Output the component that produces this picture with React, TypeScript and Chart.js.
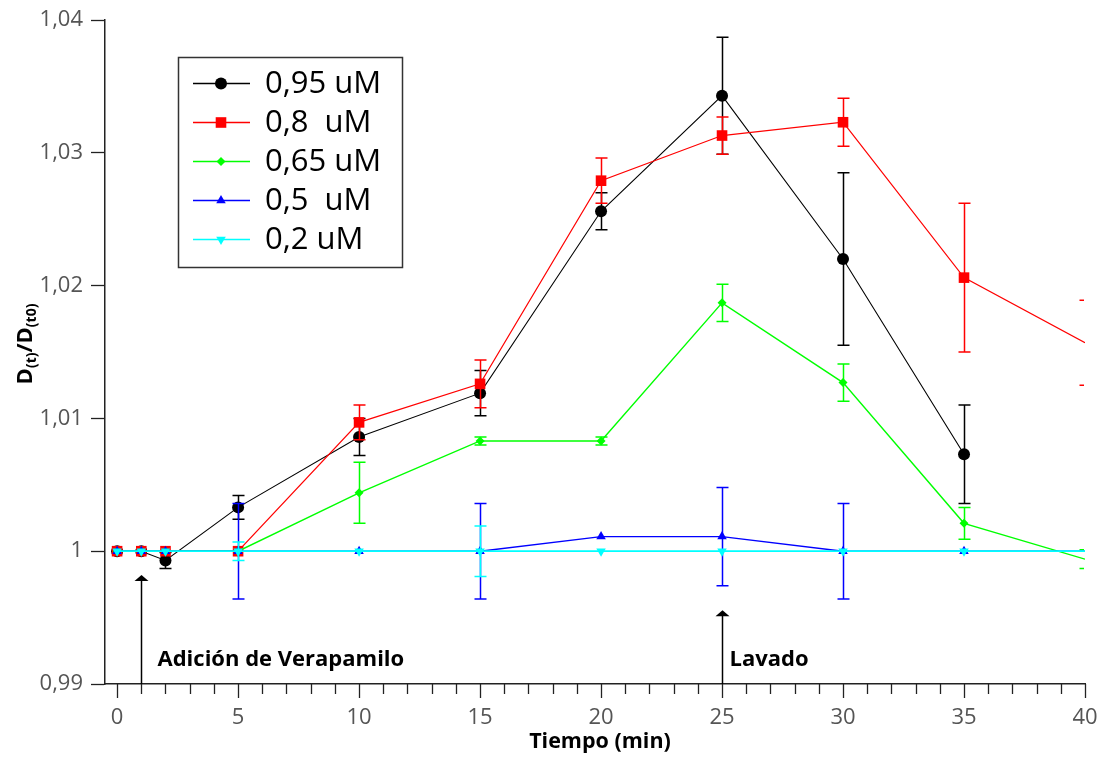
import React, { useEffect, useRef } from 'react';
import { Chart, registerables } from 'chart.js';

Chart.register(...registerables);

// ---- data ----
const times = [0, 1, 2, 5, 10, 15, 20, 25, 30, 35, 40];
const seriesLabels = ['0,95 uM', '0,8  uM', '0,65 uM', '0,5  uM', '0,2 uM'];

const conc095 = [1, 1, 0.9993, 1.0033, 1.0086, 1.0119, 1.0256, 1.0343, 1.022, 1.0073, null];
const conc095Err = [0, 0, 0.0006, 0.0009, 0.0014, 0.0017, 0.0014, 0.0044, 0.0065, 0.0037, 0];
const conc08 = [1, 1, 1, 1, 1.0097, 1.0126, 1.0279, 1.0313, 1.0323, 1.0206, 1.0157];
const conc08Err = [0, 0, 0, 0, 0.0013, 0.0018, 0.0017, 0.0014, 0.0018, 0.0056, 0.0032];
const conc065 = [1, 1, 1, 1, 1.0044, 1.0083, 1.0083, 1.0187, 1.0127, 1.0021, 0.9994];
const conc065Err = [0, 0, 0, 0, 0.0023, 0.0003, 0.0003, 0.0014, 0.0014, 0.0012, 0.0007];
const conc05 = [1, 1, 1, 1, 1, 1, 1.0011, 1.0011, 1, 1, 1];
const conc05Err = [0, 0, 0, 0.0036, 0, 0.0036, 0, 0.0037, 0.0036, 0, 0];
const conc02 = [1, 1, 1, 1, 1, 1, 1, 1, 1, 1, 1];
const conc02Err = [0, 0, 0, 0.0007, 0, 0.0019, 0, 0, 0, 0, 0];

const seriesValues = [conc095, conc08, conc065, conc05, conc02];
const seriesErrors = [conc095Err, conc08Err, conc065Err, conc05Err, conc02Err];

const yTicks = [0.99, 1.0, 1.01, 1.02, 1.03, 1.04];
const xMajorTicks = [0, 5, 10, 15, 20, 25, 30, 35, 40];

const annotationLabels = ['Adición de Verapamilo', 'Lavado'];
const annotationTimes = [1, 25];
const annotationTips = [0.9982, 0.99555];

// ---- styles ----
const seriesColors = ['#000000', '#ff0000', '#00ff00', '#0000ff', '#00ffff'];
const markerStyles = [
  { shape: 'circle', radius: 6, rotation: 0, lineWidth: 1.1 },
  { shape: 'rect', radius: 7.5, rotation: 0, lineWidth: 1.2 },
  { shape: 'rectRot', radius: 4.5, rotation: 0, lineWidth: 1.4 },
  { shape: 'triangle', radius: 5.5, rotation: 0, lineWidth: 1.4 },
  { shape: 'triangle', radius: 5.5, rotation: 180, lineWidth: 1.8 },
];
const annotationTextOffsets = [16, 7];

const X_MIN = -0.5;
const X_MAX = 40;

function drawMarker(ctx: CanvasRenderingContext2D, shape: string, x: number, y: number, r: number, rotation: number, color: string) {
  ctx.save();
  ctx.fillStyle = color;
  ctx.beginPath();
  if (shape === 'circle') {
    ctx.arc(x, y, r, 0, Math.PI * 2);
  } else if (shape === 'rect') {
    const s = Math.SQRT1_2 * r;
    ctx.rect(x - s, y - s, 2 * s, 2 * s);
  } else if (shape === 'rectRot') {
    ctx.moveTo(x - r, y);
    ctx.lineTo(x, y - r);
    ctx.lineTo(x + r, y);
    ctx.lineTo(x, y + r);
    ctx.closePath();
  } else if (shape === 'triangle') {
    let rad = (rotation * Math.PI) / 180;
    ctx.moveTo(x + Math.sin(rad) * r, y - Math.cos(rad) * r);
    rad += (2 * Math.PI) / 3;
    ctx.lineTo(x + Math.sin(rad) * r, y - Math.cos(rad) * r);
    rad += (2 * Math.PI) / 3;
    ctx.lineTo(x + Math.sin(rad) * r, y - Math.cos(rad) * r);
    ctx.closePath();
  }
  ctx.fill();
  ctx.restore();
}

const errorBarPlugin = {
  id: 'errorBars',
  beforeDatasetDraw(chart: any, args: any) {
    const i = args.index;
    const errs = seriesErrors[i];
    if (!errs) return;
    const { ctx, chartArea } = chart;
    const xs = chart.scales.x;
    const ys = chart.scales.y;
    ctx.save();
    ctx.beginPath();
    ctx.rect(chartArea.left, chartArea.top, chartArea.right - chartArea.left - 1, chartArea.bottom - chartArea.top);
    ctx.clip();
    ctx.strokeStyle = seriesColors[i];
    ctx.lineWidth = 1.5;
    times.forEach((t, k) => {
      const v = seriesValues[i][k];
      const e = errs[k];
      if (v === null || v === undefined || !e) return;
      const px = Math.round(xs.getPixelForValue(t)) + 0.5;
      const top = ys.getPixelForValue(v + e);
      const bot = ys.getPixelForValue(v - e);
      ctx.beginPath();
      ctx.moveTo(px, top);
      ctx.lineTo(px, bot);
      ctx.moveTo(px - 6, top);
      ctx.lineTo(px + 6, top);
      ctx.moveTo(px - 6, bot);
      ctx.lineTo(px + 6, bot);
      ctx.stroke();
    });
    ctx.restore();
  },
};

const decorPlugin = {
  id: 'decor',
  afterDraw(chart: any) {
    const { ctx, chartArea } = chart;
    const xs = chart.scales.x;
    const ys = chart.scales.y;
    ctx.save();

    // x-axis major/minor ticks
    ctx.strokeStyle = '#222';
    ctx.lineWidth = 1.3;
    for (let t = 0; t <= X_MAX; t++) {
      const px = Math.round(xs.getPixelForValue(t)) + 0.5;
      const len = t % 5 === 0 ? 14 : 10;
      ctx.beginPath();
      ctx.moveTo(px, chartArea.bottom);
      ctx.lineTo(px, chartArea.bottom + len);
      ctx.stroke();
    }

    // annotation arrows and labels
    annotationLabels.forEach((label, k) => {
      const px = Math.round(xs.getPixelForValue(annotationTimes[k])) + 0.5;
      const tipY = ys.getPixelForValue(annotationTips[k]);
      ctx.strokeStyle = '#000';
      ctx.lineWidth = 1.5;
      ctx.beginPath();
      ctx.moveTo(px, tipY + 5);
      ctx.lineTo(px, chartArea.bottom);
      ctx.stroke();
      ctx.fillStyle = '#000';
      ctx.beginPath();
      ctx.moveTo(px, tipY);
      ctx.lineTo(px + 7, tipY + 6);
      ctx.lineTo(px - 7, tipY + 6);
      ctx.closePath();
      ctx.fill();
      ctx.font = 'bold 22px "Open Sans", "DejaVu Sans", sans-serif';
      ctx.textAlign = 'left';
      ctx.textBaseline = 'alphabetic';
      ctx.fillText(label, px + annotationTextOffsets[k], 666);
    });

    // x title
    ctx.fillStyle = '#000';
    ctx.font = 'bold 21.5px "Open Sans", "DejaVu Sans", sans-serif';
    ctx.textAlign = 'center';
    ctx.textBaseline = 'middle';
    ctx.fillText('Tiempo (min)', 600, 742);

    // y title with subscripts (rotated)
    ctx.save();
    ctx.translate(26, 344);
    ctx.rotate(-Math.PI / 2);
    const big = 'bold 22px "Open Sans", "DejaVu Sans", sans-serif';
    const small = 'bold 14px "Open Sans", "DejaVu Sans", sans-serif';
    const parts = [
      { text: 'D', font: big, dy: 0 },
      { text: '(t)', font: small, dy: 6 },
      { text: '/D', font: big, dy: 0 },
      { text: '(t0)', font: small, dy: 6 },
    ];
    let total = 0;
    parts.forEach((p) => { ctx.font = p.font; total += ctx.measureText(p.text).width; });
    let cx = -total / 2;
    ctx.textAlign = 'left';
    ctx.textBaseline = 'middle';
    parts.forEach((p) => {
      ctx.font = p.font;
      ctx.fillText(p.text, cx, p.dy);
      cx += ctx.measureText(p.text).width;
    });
    ctx.restore();

    // legend
    const boxL = 178, boxT = 57, boxW = 224, boxH = 210;
    ctx.fillStyle = '#fff';
    ctx.fillRect(boxL, boxT, boxW, boxH);
    ctx.strokeStyle = '#333';
    ctx.lineWidth = 1.5;
    ctx.strokeRect(boxL + 0.5, boxT + 0.5, boxW, boxH);
    seriesLabels.forEach((label, i) => {
      const cy = 83.5 + i * 39;
      ctx.strokeStyle = seriesColors[i];
      ctx.lineWidth = 1.6;
      ctx.beginPath();
      ctx.moveTo(193, cy);
      ctx.lineTo(250, cy);
      ctx.stroke();
      const m = markerStyles[i];
      drawMarker(ctx, m.shape, 221, cy, m.radius, m.rotation, seriesColors[i]);
      ctx.fillStyle = '#000';
      ctx.font = '31px "Open Sans", "DejaVu Sans", sans-serif';
      ctx.textAlign = 'left';
      ctx.textBaseline = 'middle';
      ctx.fillText(label.replace('  ', '\u00a0 '), 265, cy + 1);
    });

    ctx.restore();
  },
};

export default function App() {
  const canvasRef = useRef<HTMLCanvasElement | null>(null);

  useEffect(() => {
    const canvas = canvasRef.current;
    if (!canvas) return;

    const datasets = seriesLabels.map((label, i) => {
      const m = markerStyles[i];
      const pts = times
        .map((t, k) => ({ x: t, y: seriesValues[i][k] }))
        .filter((p) => p.y !== null && p.y !== undefined);
      return {
        label,
        data: pts,
        borderColor: seriesColors[i],
        backgroundColor: seriesColors[i],
        borderWidth: m.lineWidth,
        pointStyle: m.shape,
        pointRotation: m.rotation,
        pointRadius: (c: any) => (c.raw && c.raw.x >= X_MAX ? 0 : m.radius),
        pointBorderWidth: 0,
        pointHoverRadius: m.radius,
        tension: 0,
        clip: 0,
        order: seriesLabels.length - 1 - i,
      };
    });

    const chart = new Chart(canvas, {
      type: 'line',
      data: { datasets } as any,
      plugins: [errorBarPlugin, decorPlugin],
      options: {
        animation: false,
        responsive: false,
        maintainAspectRatio: false,
        layout: { padding: { top: 20, right: 18, left: 0, bottom: 0 } },
        plugins: {
          legend: { display: false },
          tooltip: { enabled: false },
        },
        scales: {
          x: {
            type: 'linear',
            min: X_MIN,
            max: X_MAX,
            afterBuildTicks: (scale: any) => {
              scale.ticks = xMajorTicks.map((v) => ({ value: v }));
            },
            afterFit: (scale: any) => {
              scale.height = 75;
              scale.paddingRight = 0;
              scale.paddingLeft = 0;
            },
            grid: { display: true, drawOnChartArea: false, drawTicks: true, tickLength: 14, tickColor: 'rgba(0,0,0,0)' },
            border: { display: true, color: '#222', width: 1.5 },
            ticks: {
              autoSkip: false,
              maxRotation: 0,
              padding: 7,
              color: '#555',
              font: { family: '"Liberation Sans Narrow", "Open Sans", sans-serif', size: 22 },
              callback: (v: any) => String(v),
            },
          },
          y: {
            type: 'linear',
            min: 0.99,
            max: 1.04,
            afterBuildTicks: (scale: any) => {
              scale.ticks = yTicks.map((v) => ({ value: v }));
            },
            afterFit: (scale: any) => {
              scale.width = 105;
              scale.paddingTop = 0;
              scale.paddingBottom = 0;
            },
            grid: { display: true, drawOnChartArea: false, drawTicks: true, tickLength: 14, tickColor: '#222', tickWidth: 1.3 },
            border: { display: true, color: '#222', width: 1.5 },
            ticks: {
              padding: 8,
              color: '#555',
              font: { family: '"Open Sans", "DejaVu Sans", sans-serif', size: 22 },
              callback: (v: any) => {
                const n = Number(v);
                if (Math.abs(n - 1) < 1e-9) return '1';
                return n.toFixed(2).replace('.', ',');
              },
            },
          },
        },
      } as any,
    });

    return () => chart.destroy();
  }, []);

  return (
    <canvas
      ref={canvasRef}
      width={1103}
      height={759}
      style={{ position: 'fixed', left: 0, top: 0, width: 1103, height: 759, display: 'block', background: '#fff' }}
    />
  );
}
